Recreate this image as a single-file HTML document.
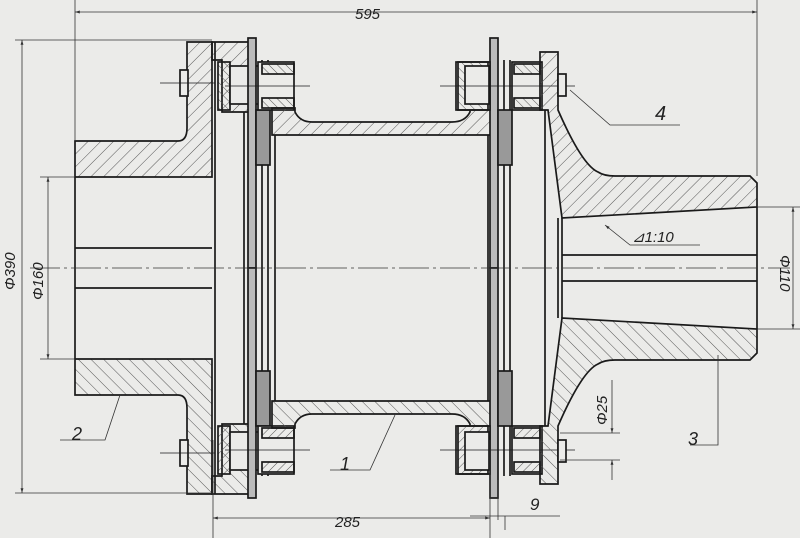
<!DOCTYPE html><html><head><style>body{margin:0;background:#ebebe9}svg{display:block}text{font-family:"Liberation Sans",sans-serif;font-style:italic;fill:#222}</style></head><body>
<svg width="800" height="538" viewBox="0 0 800 538">
<defs>
<marker id="a" viewBox="0 0 10 10" refX="10" refY="5" markerWidth="8" markerHeight="6" orient="auto-start-reverse"><path d="M0,2 L10,5 L0,8 Z" fill="#333"/></marker>
<pattern id="h" width="9" height="9" patternUnits="userSpaceOnUse" patternTransform="rotate(45)"><line x1="0" y1="0" x2="0" y2="9" stroke="#555" stroke-width="1"/></pattern>
<pattern id="h2" width="6" height="6" patternUnits="userSpaceOnUse" patternTransform="rotate(-45)"><line x1="0" y1="0" x2="0" y2="6" stroke="#555" stroke-width="1"/></pattern>
<g id="half" stroke="#1a1a1a" stroke-width="1.7" fill="none">
<path d="M75,141 L178,141 Q187,141 187,128 L187,42 L212,42 L212,177 L75,177 Z" fill="url(#h)"/>
<line x1="75" y1="177" x2="75" y2="268"/>
<line x1="75" y1="248" x2="212" y2="248"/>
<rect x="180" y="70" width="8" height="26" fill="#ebebe9"/>
<line x1="160" y1="83" x2="215" y2="83" stroke-width="0.7"/>
<path d="M212,42 L250,42 L250,112 L222,112 L222,60 L212,60 Z" fill="url(#h)"/>
<line x1="215" y1="42" x2="215" y2="268"/>
<line x1="244" y1="112" x2="244" y2="268"/>
<rect x="218" y="62" width="12" height="48" fill="url(#h2)"/>
<rect x="230" y="66" width="30" height="38" fill="#ebebe9"/>
<rect x="248" y="38" width="8" height="230" fill="#bbb"/>
<line x1="262" y1="60" x2="262" y2="268"/><line x1="268" y1="60" x2="268" y2="268"/>
<rect x="256" y="110" width="14" height="55" fill="#999"/>
<rect x="258" y="62" width="36" height="48" fill="#ebebe9"/>
<rect x="262" y="64" width="32" height="10" fill="url(#h2)"/>
<rect x="262" y="98" width="32" height="10" fill="url(#h2)"/>
<line x1="225" y1="86" x2="310" y2="86" stroke-width="0.7"/>
<path d="M272,108 L295,108 L295,112 Q300,122 312,122 L452,122 Q465,122 470,112 L470,108 L492,108 L492,135 L272,135 Z" fill="url(#h)"/>
<line x1="275" y1="135" x2="275" y2="268"/>
<line x1="488" y1="135" x2="488" y2="268"/>
<rect x="490" y="38" width="8" height="230" fill="#bbb"/>
<line x1="504" y1="60" x2="504" y2="268"/><line x1="510" y1="60" x2="510" y2="268"/>
<rect x="498" y="110" width="14" height="55" fill="#999"/>
<rect x="456" y="62" width="34" height="48" fill="#ebebe9"/>
<rect x="458" y="62" width="30" height="48" fill="url(#h2)"/>
<rect x="465" y="66" width="24" height="38" fill="#ebebe9"/>
<rect x="512" y="62" width="30" height="48" fill="#ebebe9"/>
<rect x="514" y="64" width="26" height="10" fill="url(#h2)"/>
<rect x="514" y="98" width="26" height="10" fill="url(#h2)"/>
<line x1="440" y1="86" x2="575" y2="86" stroke-width="0.7"/>
<path d="M540,52 L558,52 L558,110 Q582,165 598,172 Q604,176 615,176 L750,176 L757,183 L757,207 L562,218 L548,110 L540,110 Z" fill="url(#h)"/>
<line x1="545" y1="110" x2="545" y2="268"/>
<line x1="558" y1="218" x2="558" y2="268"/>
<line x1="562" y1="218" x2="562" y2="268"/>
<line x1="562" y1="255" x2="757" y2="255"/>
<line x1="757" y1="207" x2="757" y2="268"/>
<rect x="558" y="74" width="8" height="22" fill="#ebebe9"/>
</g>
</defs>
<use href="#half"/>
<use href="#half" transform="translate(0,536) scale(1,-1)"/>
<g stroke="#333" fill="none" stroke-width="0.8">
<line x1="30" y1="268" x2="790" y2="268" stroke-dasharray="30,4,3,4"/>
<line x1="75" y1="0" x2="75" y2="141"/><line x1="757" y1="0" x2="757" y2="176"/>
<line x1="75" y1="12" x2="757" y2="12" marker-start="url(#a)" marker-end="url(#a)"/>
<line x1="15" y1="40" x2="212" y2="40"/><line x1="15" y1="493" x2="212" y2="493"/>
<line x1="22" y1="40" x2="22" y2="493" marker-start="url(#a)" marker-end="url(#a)"/>
<line x1="40" y1="177" x2="75" y2="177"/><line x1="40" y1="359" x2="75" y2="359"/>
<line x1="48" y1="177" x2="48" y2="359" marker-start="url(#a)" marker-end="url(#a)"/>
<line x1="757" y1="207" x2="800" y2="207"/><line x1="757" y1="329" x2="800" y2="329"/>
<line x1="793" y1="207" x2="793" y2="329" marker-start="url(#a)" marker-end="url(#a)"/>
<line x1="213" y1="440" x2="213" y2="538"/><line x1="490" y1="440" x2="490" y2="538"/>
<line x1="213" y1="518" x2="490" y2="518" marker-start="url(#a)" marker-end="url(#a)"/>
<line x1="470" y1="516" x2="560" y2="516"/><line x1="498" y1="480" x2="498" y2="520"/>
<line x1="505" y1="516" x2="505" y2="530"/>
<line x1="560" y1="433" x2="620" y2="433"/><line x1="560" y1="460" x2="620" y2="460"/>
<line x1="612" y1="380" x2="612" y2="433" marker-end="url(#a)"/>
<line x1="612" y1="480" x2="612" y2="460" marker-end="url(#a)"/>
<polyline points="570,90 610,125 680,125"/>
<polyline points="700,245 630,245 605,225" marker-end="url(#a)"/>
<polyline points="120,395 105,440 60,440"/>
<polyline points="395,415 370,470 330,470"/>
<polyline points="718,355 718,445 690,445"/>
</g>
<text x="355" y="19" font-size="15">595</text>
<text x="335" y="527" font-size="15">285</text>
<text x="530" y="510" font-size="17">9</text>
<text x="655" y="120" font-size="20">4</text>
<text x="632" y="242" font-size="15">⊿1:10</text>
<text x="340" y="470" font-size="18">1</text>
<text x="72" y="440" font-size="18">2</text>
<text x="688" y="445" font-size="18">3</text>
<text transform="translate(15,290) rotate(-90)" font-size="15">Φ390</text>
<text transform="translate(43,300) rotate(-90)" font-size="15">Φ160</text>
<text transform="translate(780,255) rotate(90)" font-size="15">Φ110</text>
<text transform="translate(607,425) rotate(-90)" font-size="15">Φ25</text>
</svg></body></html>
